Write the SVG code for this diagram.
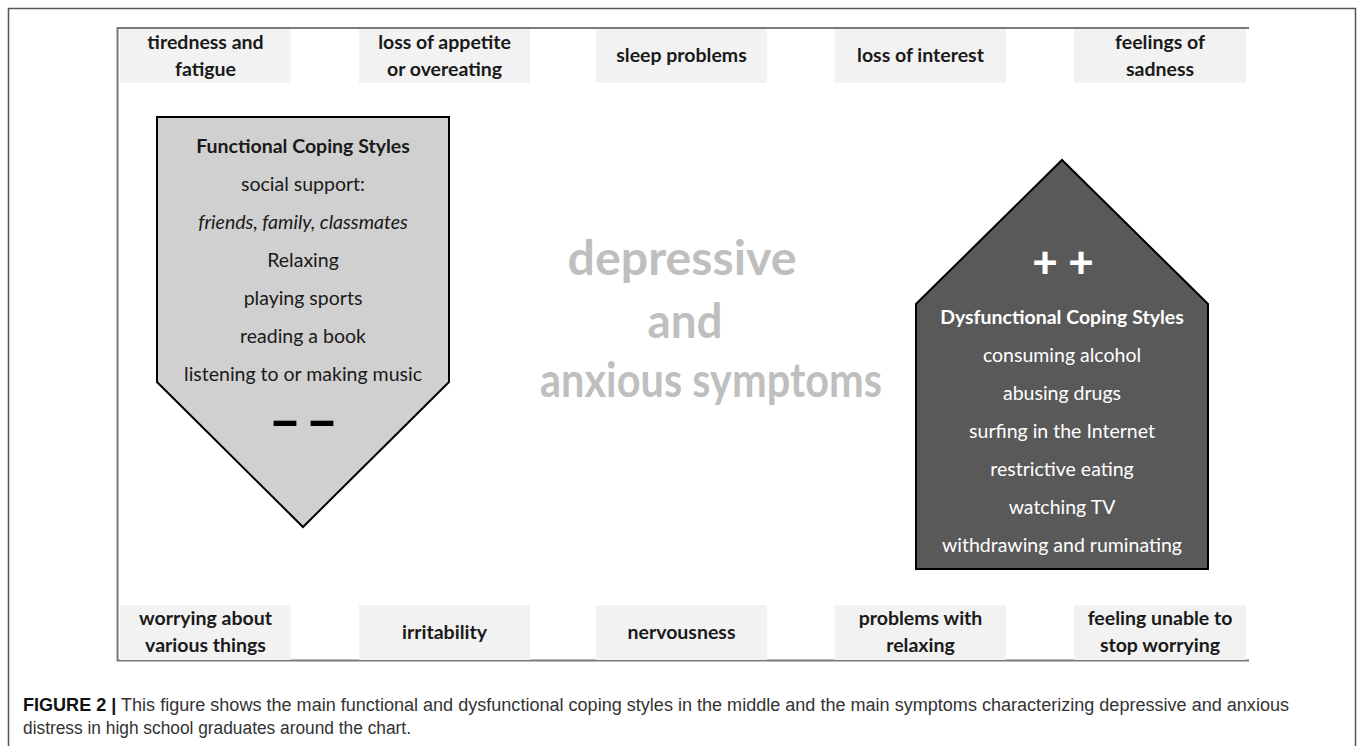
<svg xmlns="http://www.w3.org/2000/svg" width="1358" height="746" viewBox="0 0 1358 746">
<style>
.sym{fill:#f2f2f2}
.st{font-family:Lato,"Open Sans","Liberation Sans",sans-serif;font-weight:bold;font-size:19.5px;fill:#1a1a1a;text-anchor:middle}
.ft{font-family:Lato,"Open Sans","Liberation Sans",sans-serif;font-size:19.5px;fill:#1a1a1a;text-anchor:middle}
.dt{font-family:Lato,"Open Sans","Liberation Sans",sans-serif;font-size:19.5px;fill:#ffffff;text-anchor:middle}
.ct{font-family:Lato,"Open Sans","Liberation Sans",sans-serif;font-weight:bold;font-size:47px;fill:#bfbfbf;text-anchor:middle}
.cap{font-family:"Liberation Sans",Arial,sans-serif;font-size:18px;fill:#333}
.sign{font-family:Lato,"Open Sans","Liberation Sans",sans-serif;font-weight:900;text-anchor:middle}
</style>
<rect x="0" y="0" width="1358" height="746" fill="#ffffff"/>
<!-- outer frame -->
<path d="M8.5,760 V8.5 H1355.5 V760" fill="none" stroke="#555" stroke-width="1.5"/>
<!-- inner frame -->
<path d="M1249,28 H117.5 V660.5 H1249" fill="none" stroke="#7a7a7a" stroke-width="2"/>

<g id="top-symptoms">
<g id="s-tiredness"><rect class="sym" x="120" y="29" width="171" height="54"/><text class="st" x="205.5" y="49">tiredness and</text><text class="st" x="205.5" y="76">fatigue</text></g>
<g id="s-appetite"><rect class="sym" x="359" y="29" width="171" height="54"/><text class="st" x="444.5" y="49">loss of appetite</text><text class="st" x="444.5" y="76">or overeating</text></g>
<g id="s-sleep"><rect class="sym" x="596" y="29" width="171" height="54"/><text class="st" x="681.5" y="62">sleep problems</text></g>
<g id="s-interest"><rect class="sym" x="835" y="29" width="171" height="54"/><text class="st" x="920.5" y="62">loss of interest</text></g>
<g id="s-sadness"><rect class="sym" x="1074" y="29" width="172" height="54"/><text class="st" x="1160" y="49">feelings of</text><text class="st" x="1160" y="76">sadness</text></g>
</g>

<g id="bottom-symptoms">
<g id="s-worrying"><rect class="sym" x="120" y="605" width="171" height="55"/><text class="st" x="205.5" y="625">worrying about</text><text class="st" x="205.5" y="652">various things</text></g>
<g id="s-irritability"><rect class="sym" x="359" y="605" width="171" height="55"/><text class="st" x="444.5" y="639">irritability</text></g>
<g id="s-nervousness"><rect class="sym" x="596" y="605" width="171" height="55"/><text class="st" x="681.5" y="639">nervousness</text></g>
<g id="s-relaxing"><rect class="sym" x="835" y="605" width="171" height="55"/><text class="st" x="920.5" y="625">problems with</text><text class="st" x="920.5" y="652">relaxing</text></g>
<g id="s-unable"><rect class="sym" x="1074" y="605" width="172" height="55"/><text class="st" x="1160" y="625">feeling unable to</text><text class="st" x="1160" y="652">stop worrying</text></g>
</g>

<g id="functional">
<path d="M157,117 H449 V382 L303,527 L157,382 Z" fill="#d0d0d0" stroke="#000" stroke-width="2"/>
<text class="ft" x="303" y="153" style="font-weight:bold">Functional Coping Styles</text>
<text class="ft" x="303" y="191">social support:</text>
<text class="ft" x="303" y="229" style="font-style:italic">friends, family, classmates</text>
<text class="ft" x="303" y="267">Relaxing</text>
<text class="ft" x="303" y="305">playing sports</text>
<text class="ft" x="303" y="343">reading a book</text>
<text class="ft" x="303" y="381">listening to or making music</text>
<text class="sign" x="285" y="440" style="font-size:56px;fill:#000">–</text>
<text class="sign" x="322" y="440" style="font-size:56px;fill:#000">–</text>
</g>

<g id="dysfunctional">
<path d="M916,304 L1062,160 L1208,304 V569 H916 Z" fill="#595959" stroke="#000" stroke-width="2"/>
<text class="sign" x="1045" y="278" style="font-size:44px;fill:#fff">+</text>
<text class="sign" x="1081" y="278" style="font-size:44px;fill:#fff">+</text>
<text class="dt" x="1062" y="324" style="font-weight:bold">Dysfunctional Coping Styles</text>
<text class="dt" x="1062" y="362">consuming alcohol</text>
<text class="dt" x="1062" y="400">abusing drugs</text>
<text class="dt" x="1062" y="438">surfing in the Internet</text>
<text class="dt" x="1062" y="476">restrictive eating</text>
<text class="dt" x="1062" y="514">watching TV</text>
<text class="dt" x="1062" y="552">withdrawing and ruminating</text>
</g>

<g id="center">
<text class="ct" x="682" y="275" textLength="229" lengthAdjust="spacingAndGlyphs">depressive</text>
<text class="ct" x="685" y="338" textLength="75" lengthAdjust="spacingAndGlyphs">and</text>
<text class="ct" x="711" y="397" textLength="342" lengthAdjust="spacingAndGlyphs">anxious symptoms</text>
</g>

<g id="connectors"></g>

<g id="caption">
<text class="cap" x="23" y="711" textLength="1266" lengthAdjust="spacingAndGlyphs"><tspan font-weight="bold" fill="#111">FIGURE 2 |</tspan> This figure shows the main functional and dysfunctional coping styles in the middle and the main symptoms characterizing depressive and anxious</text>
<text class="cap" x="23" y="734" textLength="388" lengthAdjust="spacingAndGlyphs">distress in high school graduates around the chart.</text>
</g>
</svg>
